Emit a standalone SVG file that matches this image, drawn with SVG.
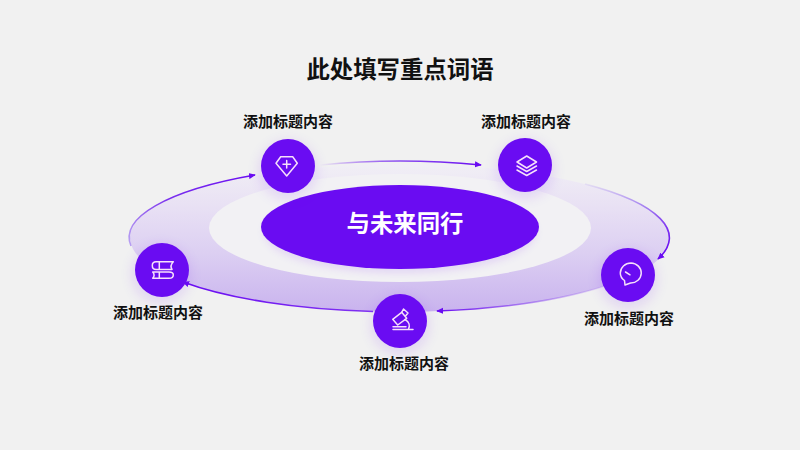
<svg xmlns="http://www.w3.org/2000/svg" width="800" height="450" viewBox="0 0 800 450">
<defs>
<linearGradient id="band" x1="0" y1="0" x2="0" y2="1"><stop offset="0" stop-color="#f1eff5"/><stop offset="0.3" stop-color="#e8e0f4"/><stop offset="0.6" stop-color="#dccff2"/><stop offset="1" stop-color="#c9b3ee"/></linearGradient>
<linearGradient id="a1" gradientUnits="userSpaceOnUse" x1="320" y1="0" x2="481" y2="0"><stop offset="0" stop-color="#6a0cf2" stop-opacity="0"/><stop offset="0.5" stop-color="#8a4cf0"/><stop offset="1" stop-color="#6a0cf2"/></linearGradient>
<linearGradient id="a2" gradientUnits="userSpaceOnUse" x1="585" y1="183" x2="660" y2="258"><stop offset="0" stop-color="#b9a2f2" stop-opacity="0.2"/><stop offset="0.55" stop-color="#a582f0"/><stop offset="1" stop-color="#6a0cf2"/></linearGradient>
<linearGradient id="a3" gradientUnits="userSpaceOnUse" x1="605" y1="0" x2="437" y2="0"><stop offset="0" stop-color="#8a4cf0" stop-opacity="0.1"/><stop offset="1" stop-color="#6a0cf2"/></linearGradient>
<linearGradient id="a4" gradientUnits="userSpaceOnUse" x1="373" y1="0" x2="183" y2="0"><stop offset="0" stop-color="#6a0cf2" stop-opacity="0.8"/><stop offset="1" stop-color="#6a0cf2"/></linearGradient>
<linearGradient id="a5" gradientUnits="userSpaceOnUse" x1="131" y1="250" x2="255" y2="176"><stop offset="0" stop-color="#b9a2f2"/><stop offset="0.4" stop-color="#7a30ee"/><stop offset="1" stop-color="#6a0cf2"/></linearGradient>
<filter id="soft" x="-50%" y="-50%" width="200%" height="200%"><feGaussianBlur stdDeviation="7"/></filter>
<filter id="soft2" x="-20%" y="-30%" width="140%" height="160%"><feGaussianBlur stdDeviation="5"/></filter>
<marker id="ah" viewBox="0 0 8 8" refX="7" refY="4" markerWidth="7" markerHeight="7" markerUnits="userSpaceOnUse" orient="auto"><path d="M0 0.500L8 4L0 7.500z" fill="#6a0cf2"/></marker>
</defs>
<style>
text{font-family:"Noto Sans CJK SC","Liberation Sans",sans-serif;text-anchor:middle;fill:#111}
.lab{font-size:15px;font-weight:700}
.dot{fill:#6a0cf2}
.halo{fill:#6a0cf2;opacity:.14;filter:url(#soft)}
.ic{fill:none;stroke:#f6e0fb;stroke-width:1.5;stroke-linejoin:round;stroke-linecap:round}
.arc{fill:none;stroke-width:1.6}
</style>
<rect width="800" height="450" fill="#f1f1f1"/>
<text x="400" y="78" font-size="23.400" font-weight="700">此处填写重点词语</text>
<g id="ring">
<ellipse cx="400" cy="238" rx="270" ry="74" fill="url(#band)"/>
<ellipse cx="400" cy="228" rx="191" ry="54" fill="#f2f1f4"/>
</g>
<g id="connectors">
<path class="arc" stroke="url(#a1)" marker-end="url(#ah)" d="M320 165Q400 157 481 165"/>
<path class="arc" stroke="url(#a2)" marker-end="url(#ah)" d="M585 184A270 74 0 0 1 658 259"/>
<path class="arc" stroke="url(#a3)" marker-end="url(#ah)" d="M605 286A270 74 0 0 1 437 311"/>
<path class="arc" stroke="url(#a4)" marker-end="url(#ah)" d="M373 311.500A270 74 0 0 1 183 282"/>
<path class="arc" stroke="url(#a5)" marker-end="url(#ah)" d="M131 246A270 74 0 0 1 255 175"/>
</g>
<g id="center">
<ellipse cx="400" cy="232" rx="135" ry="40" fill="#6a0cf2" opacity=".14" filter="url(#soft2)"/>
<ellipse cx="400" cy="227" rx="139" ry="42" fill="#6a0cf2"/>
<text x="405" y="232" font-size="23.400" font-weight="700" style="fill:#fff">与未来同行</text>
</g>
<g id="node1">
<circle class="halo" cx="288" cy="170" r="28"/><circle class="dot" cx="288" cy="166" r="27"/>
<path class="ic" d="M280.700 156.700H292.700L297.300 163.300L286.700 176L276 163.300Z"/><path class="ic" d="M283 164.300H290.500M286.700 160.500V168"/>
<text class="lab" x="288" y="127">添加标题内容</text>
</g>
<g id="node2">
<circle class="halo" cx="525" cy="169" r="28"/><circle class="dot" cx="525" cy="165" r="27"/>
<path class="ic" d="M526.700 156L536.500 162L526.700 168L517 162Z"/><path class="ic" d="M517 166L526.700 171.500L536.500 166M517 170L526.700 175.500L536.500 170"/>
<text class="lab" x="526" y="127">添加标题内容</text>
</g>
<g id="node3">
<circle class="halo" cx="628" cy="279" r="28"/><circle class="dot" cx="628" cy="275" r="27"/>
<path class="ic" d="M631 263A10.500 10 0 1 1 630.500 283L625 285L624.500 280.500C621.500 278.500 620.300 276 620.300 273A10.700 10 0 0 1 631 263Z"/><path class="ic" d="M625.500 272L630 274.800" stroke-width="1.200"/>
<text class="lab" x="629" y="324">添加标题内容</text>
</g>
<g id="node4">
<circle class="halo" cx="400" cy="325" r="28"/><circle class="dot" cx="400" cy="321" r="27"/>
<path class="ic" d="M392.700 319.300L401.700 312.300L406.700 318.300L397.700 325Z"/><path class="ic" d="M401.700 312.300L403.500 309L408 313L405.500 316M405 319.500C409.500 322 410 326 408.500 329M393 326.700H406M393 329.500H413"/>
<text class="lab" x="404" y="369">添加标题内容</text>
</g>
<g id="node5">
<circle class="halo" cx="161" cy="274" r="28"/><circle class="dot" cx="162" cy="270" r="27"/>
<path class="ic" d="M173.300 261.700H156C153.500 261.700 152.300 263.500 152.300 265.500C152.300 267.800 153.500 269.500 156 269.500H172C170.500 267 171 264 173.300 261.700ZM159.300 261.700V269.500"/>
<path class="ic" d="M152.700 272H169C172 272 173.300 273.500 173.300 275C173.300 277 172 278.300 169 278.300H152.700C154.300 276.500 154.300 273.800 152.700 272ZM159.300 272V278.300"/>
<text class="lab" x="158" y="318">添加标题内容</text>
</g>
</svg>
